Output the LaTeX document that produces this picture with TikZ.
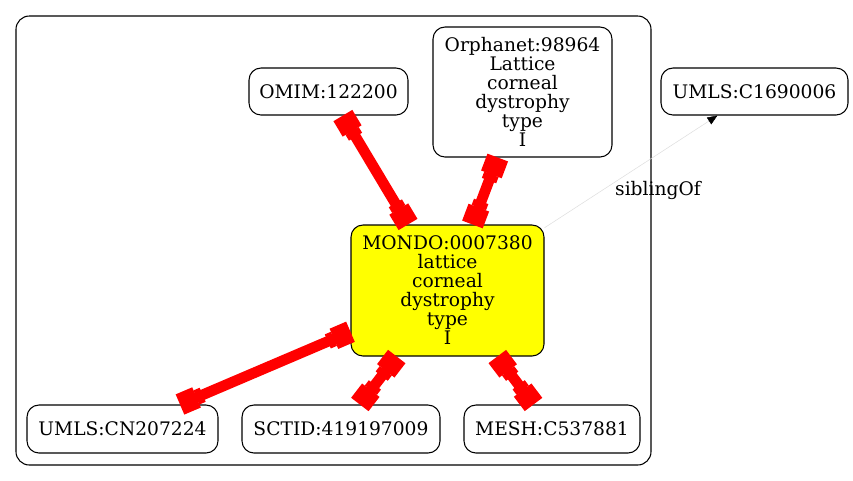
\documentclass[tikz,border=0pt]{standalone}
\usepackage{fontspec}
\setmainfont{DejaVu Serif}
\usetikzlibrary{arrows.meta}
\definecolor{focusfill}{RGB}{255,255,0}
\definecolor{linkred}{RGB}{255,0,0}
\begin{document}
\begin{tikzpicture}[x=0.75pt,y=-0.75pt,
  every node/.style={font=\fontsize{14}{14.25}\selectfont},
  term/.style={draw=black,line width=0.8pt,rounded corners=9pt,align=center,inner sep=0pt},
  focus/.style={term,fill=focusfill},
  xref/.style={draw=linkred,line width=8pt,
    {Square[width=16.5pt,length=13.5pt]Rectangle[width=11.5pt,length=5pt]}-{Rectangle[width=11.5pt,length=5pt]Square[width=16.5pt,length=13.5pt]}},
  sibling/.style={draw=black!13,line width=0.4pt,-{Triangle[length=7.5pt,width=6pt,black]}},
  group/.style={draw=black,line width=0.8pt,rounded corners=10pt}]
\useasboundingbox (0,0) rectangle (853,480);
% enclosing group
\draw[group] (16,16) rectangle (651,465);
% terms
\node[term,minimum width=119.25pt,minimum height=35.25pt] (omim) at (328.5,91.5) {OMIM:122200};
\node[term,minimum width=134.25pt,minimum height=97.5pt] (orpha) at (522.5,92) {Orphanet:98964\\Lattice\\corneal\\dystrophy\\type\\I};
\node[term,minimum width=140.25pt,minimum height=35.25pt] (umlsc) at (754.5,91.5) {UMLS:C1690006};
\node[focus,minimum width=144.75pt,minimum height=98.25pt] (mondo) at (447.5,290.5) {MONDO:0007380\\lattice\\corneal\\dystrophy\\type\\I};
\node[term,minimum width=143.25pt,minimum height=36pt] (umlscn) at (122.5,429) {UMLS:CN207224};
\node[term,minimum width=148.5pt,minimum height=36pt] (sctid) at (341,429) {SCTID:419197009};
\node[term,minimum width=132pt,minimum height=36pt] (mesh) at (552,429) {MESH:C537881};
% cross references
\draw[xref] (omim) -- (mondo);
\draw[xref] (orpha) -- (mondo);
\draw[xref] (mondo) -- (umlscn);
\draw[xref] (mondo) -- (sctid);
\draw[xref] (mondo) -- (mesh);
% sibling relation
\draw[sibling] (mondo) -- (umlsc);
\node (siblab) at (658,190) {siblingOf};
\end{tikzpicture}
\end{document}
